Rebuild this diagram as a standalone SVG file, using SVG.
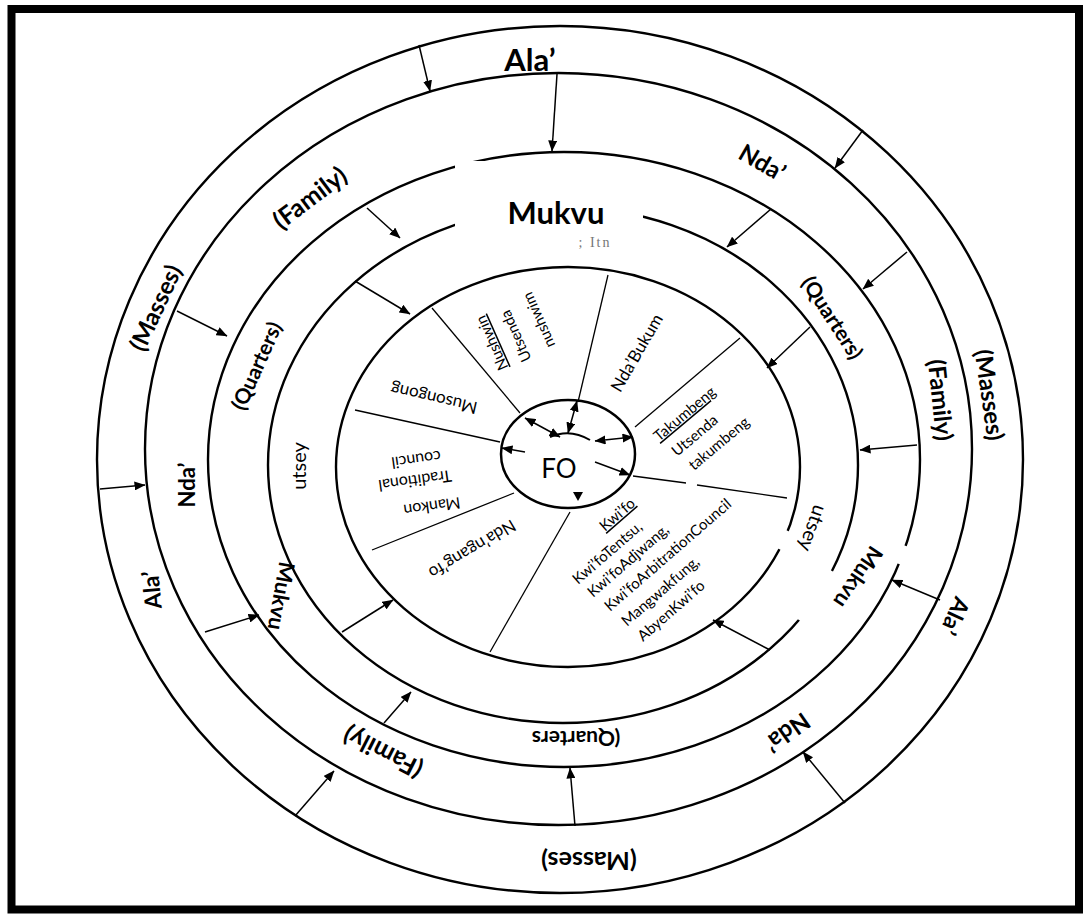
<svg xmlns="http://www.w3.org/2000/svg" width="1086" height="917" viewBox="0 0 1086 917">
  <defs>
    <marker id="ah" markerWidth="11" markerHeight="9" refX="10.5" refY="4.5" orient="auto-start-reverse" markerUnits="userSpaceOnUse">
      <path d="M0,0 L11,4.5 L0,9 z" fill="#000"/>
    </marker>
    <style>
      .ring{fill:none;stroke:#000;stroke-width:2.4}
      .sep{stroke:#000;stroke-width:1.3;fill:none}
      .arr{stroke:#000;stroke-width:1.5;fill:none;marker-end:url(#ah)}
      .dbl{marker-start:url(#ah)}
      .cover{fill:none;stroke:#fff;stroke-width:7;stroke-linecap:butt}
      .box{fill:#fff;stroke:none}
      text{font-family:Lato,"Open Sans","Liberation Sans",sans-serif;fill:#000;text-anchor:middle}
      .b{font-weight:700}
      .r{font-weight:400}
      .ul{text-decoration:underline}
    </style>
  </defs>

  <rect width="1086" height="917" fill="#fff"/>
  <!-- frame -->
  <rect x="11.5" y="9" width="1067.5" height="900.5" fill="none" stroke="#000" stroke-width="8"/>

  <!-- concentric rings, outermost first -->
  <g id="ring-masses"><ellipse class="ring" cx="560" cy="459.5" rx="463" ry="433.5"/></g>
  <g id="ring-family"><ellipse class="ring" cx="558.5" cy="449" rx="413.5" ry="376"/></g>
  <g id="ring-quarters"><ellipse class="ring" cx="564" cy="459.5" rx="356" ry="307.5"/></g>
  <g id="ring-utsey"><ellipse class="ring" cx="563" cy="465" rx="295" ry="258"/></g>
  <g id="ring-council"><ellipse class="ring" cx="568" cy="467" rx="232" ry="200"/></g>

  <!-- openings where label boxes sit on the rings -->
  <g id="ring-openings">
    <rect class="box" x="455" y="161" width="188" height="91"/>
    <path class="cover" d="M788,531 L779,549"/>
    <path class="cover" d="M832,571 L817,596 L799,620"/>
    <path class="cover" d="M906,546 L899,564"/>
  </g>

  <!-- FO centre -->
  <g id="node-fo">
    <ellipse cx="568" cy="454" rx="67" ry="54" fill="#fff" stroke="#000" stroke-width="2.5"/>
    <text class="r" x="559" y="478" font-size="26">FO</text>
  </g>

  <!-- connectors: sector dividers and arrows -->
  <g id="connectors">
    <g id="sector-lines">
      <path class="sep" d="M432,308 L520,413"/>
      <path class="sep" d="M608,275 L578,402"/>
      <path class="sep" d="M740,338 L635,427"/>
      <path class="sep" d="M633,476 L686,483"/>
      <path class="sep" d="M697,485 L787,498"/>
      <path class="sep" d="M570,512 L490,652"/>
      <path class="sep" d="M514,493 L372,550"/>
      <path class="sep" d="M355,410 L500,442"/>
    </g>
    <g id="ring-arrows">
      <path class="arr" d="M419,45 L430,91"/>
      <path class="arr" d="M557,74 L552,151"/>
      <path class="arr" d="M367,208 L400,238"/>
      <path class="arr" d="M355,281 L410,314"/>
      <path class="arr" d="M177,311 L227,336"/>
      <path class="arr" d="M100,489 L145,485"/>
      <path class="arr" d="M205,632 L259,615"/>
      <path class="arr" d="M342,632 L393,600"/>
      <path class="arr" d="M384,723 L411,692"/>
      <path class="arr" d="M295,816 L334,771"/>
      <path class="arr" d="M575,826 L570,768"/>
      <path class="arr" d="M845,803 L803,752"/>
      <path class="arr" d="M940,600 L892,580"/>
      <path class="arr" d="M917,445 L860,450"/>
      <path class="arr" d="M770,650 L713,620"/>
      <path class="arr" d="M863,130 L835,168"/>
      <path class="arr" d="M771,209 L727,247"/>
      <path class="arr" d="M907,252 L863,289"/>
      <path class="arr" d="M810,327 L767,368"/>
    </g>
    <g id="fo-arrows">
      <path class="arr dbl" d="M525,418 L560,437"/>
      <path class="arr dbl" d="M577,401 L568,433"/>
      <path class="arr dbl" d="M595,441 L633,437"/>
      <path class="arr" d="M525,452 L502,448"/>
      <path class="arr" d="M595,462 L630,475"/>
      <path d="M573,492 L583,492 L578,501 z" fill="#000"/>
      <path d="M550,437 Q570,428 590,440" fill="none" stroke="#000" stroke-width="2"/>
    </g>
  </g>

  <!-- outer band: Ala' (Masses) -->
  <g id="lbl-ala-top" transform="translate(530,60)"><text class="b" y="10.5" font-size="31">Ala’</text></g>
  <g id="lbl-masses-left" transform="translate(156,308) rotate(-65)"><text class="b" y="8" font-size="24">(Masses)</text></g>
  <g id="lbl-masses-right" transform="translate(989,395) rotate(82)"><text class="b" y="8" font-size="24">(Masses)</text></g>
  <g id="lbl-ala-right" transform="translate(955,616) rotate(115)"><text class="b" y="8" font-size="23">Ala’</text></g>
  <g id="lbl-masses-bottom" transform="translate(589,860) rotate(180)"><text class="b" y="8.5" font-size="25">(Masses)</text></g>
  <g id="lbl-ala-left" transform="translate(152,590) rotate(-95)"><text class="b" y="8" font-size="23">Ala’</text></g>

  <!-- second band: Nda' (Family) -->
  <g id="lbl-nda-top" transform="translate(762,163) rotate(30)"><text class="b" y="8" font-size="24">Nda’</text></g>
  <g id="lbl-family-top" transform="translate(310,198) rotate(-37)"><text class="b" y="8.5" font-size="25">(Family)</text></g>
  <g id="lbl-nda-left" transform="translate(187,485) rotate(-90)"><text class="b" y="7.5" font-size="22">Nda’</text></g>
  <g id="lbl-family-right" transform="translate(940,400) rotate(84)"><text class="b" y="8" font-size="24">(Family)</text></g>
  <g id="lbl-nda-bottom" transform="translate(787,732) rotate(145)"><text class="b" y="8" font-size="24">Nda’</text></g>
  <g id="lbl-family-bottom" transform="translate(383,752) rotate(207)"><text class="b" y="8.5" font-size="25">(Family)</text></g>

  <!-- third band: Mukvu (Quarters) -->
  <g id="lbl-mukvu-top" transform="translate(556,213)"><text class="b" y="10.5" font-size="31">Mukvu</text>
    <text x="39" y="34" font-size="14" style="font-family:'Liberation Serif',serif;fill:#777;letter-spacing:2px">; Itn</text></g>
  <g id="lbl-quarters-right" transform="translate(832,318) rotate(57)"><text class="b" y="7" font-size="21">(Quarters)</text></g>
  <g id="lbl-mukvu-right" transform="translate(858,577) rotate(124)"><text class="b" y="7.5" font-size="22">Mukvu</text></g>
  <g id="lbl-quarters-bottom" transform="translate(576,738) rotate(180)"><text class="b" y="7" font-size="21">(Quarters</text></g>
  <g id="lbl-mukvu-left" transform="translate(281,596) rotate(100)"><text class="b" y="7.5" font-size="22">Mukvu</text></g>
  <g id="lbl-quarters-left" transform="translate(257,366) rotate(-66)"><text class="b" y="7" font-size="21">(Quarters)</text></g>

  <!-- fourth band: utsey -->
  <g id="lbl-utsey-left" transform="translate(300,466) rotate(-90)"><text class="r" y="6" font-size="20">utsey</text></g>
  <g id="lbl-utsey-right" transform="translate(812,528) rotate(110)"><text class="r" y="6" font-size="20">utsey</text></g>

  <!-- inner sectors -->
  <g id="sec-musongong" transform="translate(434,398) rotate(193)"><text class="r" y="5.5" font-size="17">Musongong</text></g>
  <g id="sec-mankon">
    <text class="r" font-size="16" transform="translate(432,506) rotate(172)" y="5">Mankon</text>
    <text class="r" font-size="16" transform="translate(415,480) rotate(172)" y="5">Traditional</text>
    <text class="r" font-size="16" transform="translate(416,459) rotate(172)" y="5">council</text>
  </g>
  <g id="sec-ndangangfo" transform="translate(472,549) rotate(149)"><text class="r" y="5.5" font-size="17">Nda’ngang’fo</text></g>
  <g id="sec-nushwin">
    <text class="r ul" font-size="15" transform="translate(492,343) rotate(246)" y="5">Nushwin</text>
    <text class="r" font-size="15" transform="translate(516,336) rotate(246)" y="5">Utsenda</text>
    <text class="r" font-size="15" transform="translate(539,320) rotate(246)" y="5">nushwim</text>
  </g>
  <g id="sec-ndabukum" transform="translate(637,353) rotate(-60)"><text class="r" y="5.5" font-size="17">Nda’Bukum</text></g>
  <g id="sec-takumbeng" style="text-anchor:start">
    <text class="r ul" font-size="15" style="text-anchor:start" transform="translate(659,442) rotate(-40)">Takumbeng</text>
    <text class="r" font-size="15" style="text-anchor:start" transform="translate(677,457) rotate(-40)">Utsenda</text>
    <text class="r" font-size="15" style="text-anchor:start" transform="translate(694,471) rotate(-40)">takumbeng</text>
  </g>
  <g id="sec-kwifo">
    <text class="r ul" font-size="15" style="text-anchor:start" transform="translate(605,532) rotate(-41)">Kwi’fo</text>
    <text class="r" font-size="15" style="text-anchor:start" transform="translate(578,585) rotate(-41)">Kwi’foTentsu,</text>
    <text class="r" font-size="15" style="text-anchor:start" transform="translate(593,598) rotate(-41)">Kwi’foAdjwang,</text>
    <text class="r" font-size="15" style="text-anchor:start" transform="translate(610,612) rotate(-41)">Kwi’foArbitrationCouncil</text>
    <text class="r" font-size="15" style="text-anchor:start" transform="translate(627,627) rotate(-41)">Mangwakfung,</text>
    <text class="r" font-size="15" style="text-anchor:start" transform="translate(643,642) rotate(-41)">AbyenKwi’fo</text>
  </g>
</svg>
